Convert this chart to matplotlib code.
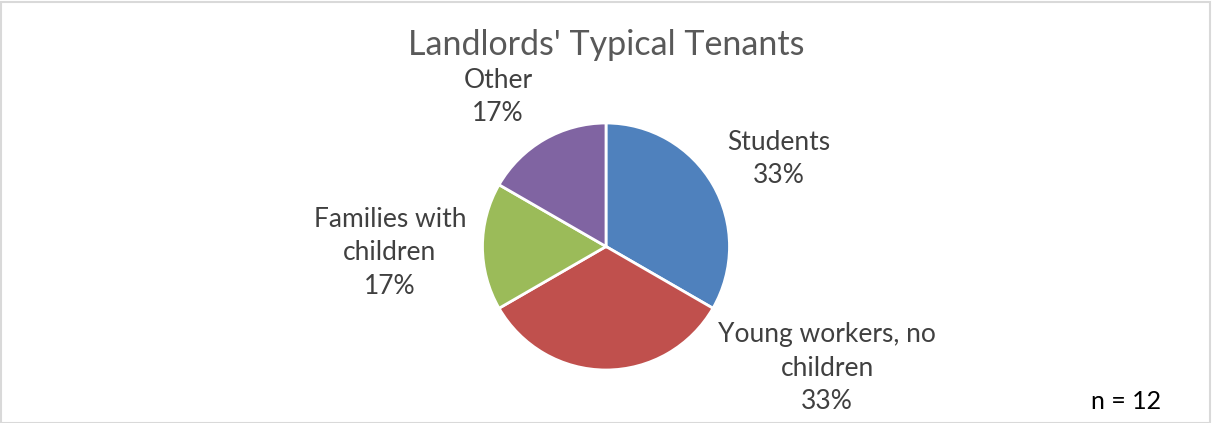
import matplotlib
matplotlib.use("Agg")
import matplotlib.pyplot as plt
from matplotlib.patches import Rectangle

plt.rcParams["font.family"] = ["Lato", "DejaVu Sans"]

categories = ["Students", "Young workers, no\nchildren", "Families with\nchildren", "Other"]
counts = [4, 4, 2, 2]
colors = ["#4F81BD", "#C0504D", "#9BBB59", "#8064A2"]
title = "Landlords' Typical Tenants"
n_total = sum(counts)

W, H = 1212, 423
# pixel-space layout (y measured from the top of the canvas)
center = (606, 246.5)
radius = 123.5
label_pos = [(779, 159), (827, 368), (390, 253), (498, 97)]

fig = plt.figure(figsize=(W / 100, H / 100), dpi=100)
ax = fig.add_axes([0, 0, 1, 1])
ax.set_xlim(0, W)
ax.set_ylim(0, H)
ax.set_aspect("equal")
ax.axis("off")

ax.pie(counts, colors=colors, startangle=90, counterclock=False,
       center=(center[0], H - center[1]), radius=radius,
       wedgeprops=dict(edgecolor="white", linewidth=2.0), frame=False)
ax.set_xlim(0, W)
ax.set_ylim(0, H)

for name, c, (x, y) in zip(categories, counts, label_pos):
    pct = round(100 * c / n_total)
    ax.text(x, H - y, f"{name}\n{pct}%", ha="center", va="center",
            fontsize=19, color="#404040", linespacing=1.42)

ax.text(606, H - 45, title, ha="center", va="center", fontsize=24.5, color="#595959")
ax.text(1126, H - 401, f"n = {n_total}", ha="center", va="center", fontsize=18, color="black")

fig.patches.append(Rectangle((0.5 / W, 0.5 / H), 1 - 3 / W, 1 - 3 / H,
                             transform=fig.transFigure, fill=False,
                             edgecolor="#D9D9D9", linewidth=1.5))

fig.savefig("out.png", dpi=100, facecolor="white")
